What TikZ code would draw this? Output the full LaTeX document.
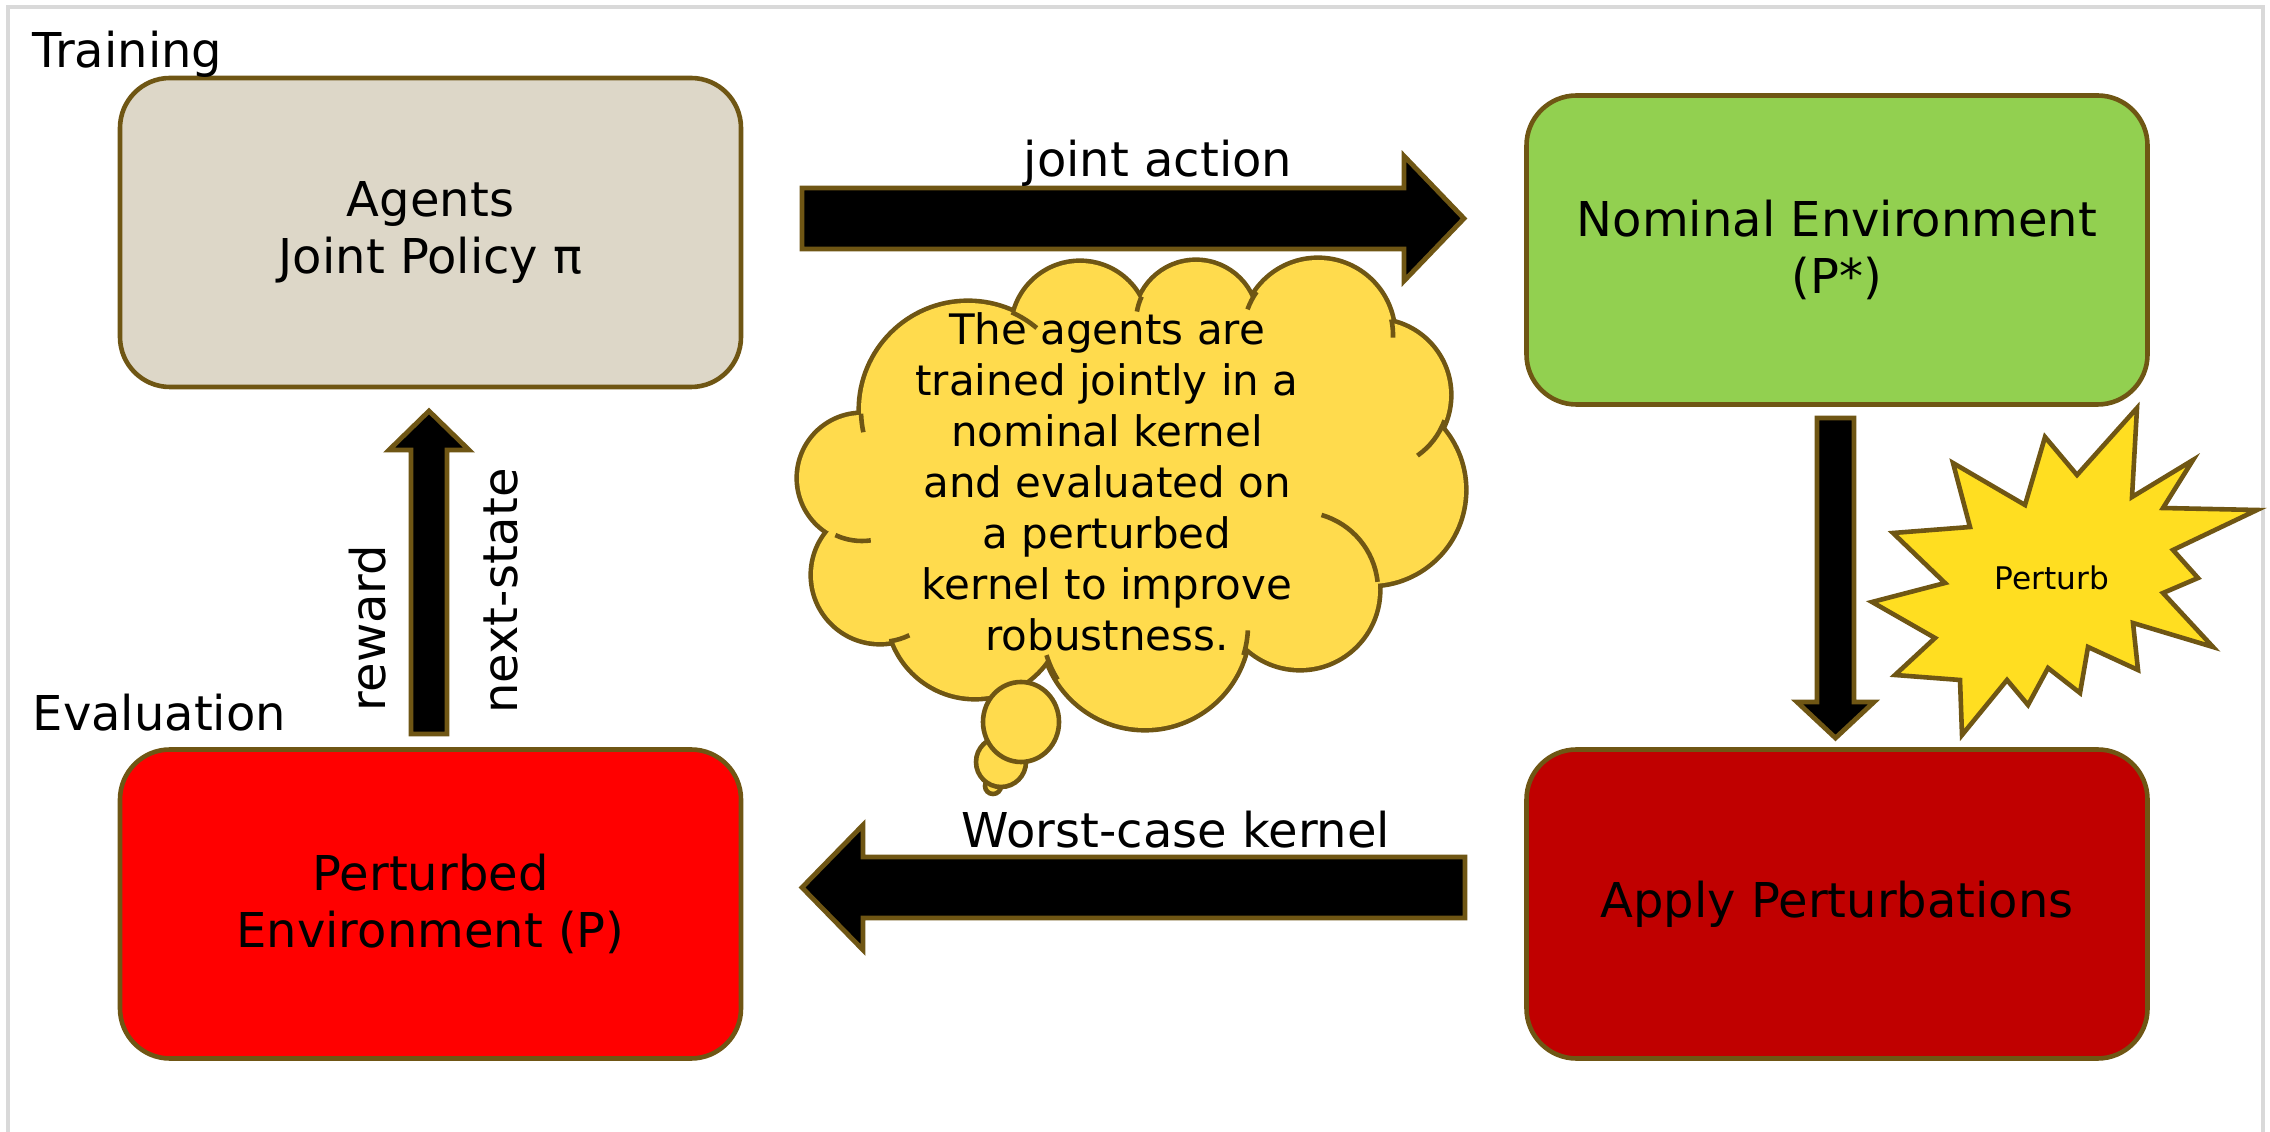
\documentclass[tikz,border=0pt]{standalone}
\usepackage{fontspec}
\setmainfont{DejaVu Sans}
\usetikzlibrary{positioning}

\definecolor{edge}{HTML}{6F5614}
\definecolor{agentfill}{HTML}{DDD7C8}
\definecolor{nomfill}{HTML}{92D050}
\definecolor{pertfill}{HTML}{FF0000}
\definecolor{applyfill}{HTML}{C00000}
\definecolor{cloudfill}{HTML}{FFDB4D}
\definecolor{burstfill}{HTML}{FFDE21}
\definecolor{framegray}{HTML}{D9D9D9}

% puffs of the thought cloud: x/y/radius
\newcommand{\puffs}{862/478/63, 880/575/67, 975/610/87, 1145/625/103, 1300/590/78,
	1370/490/94, 1375/395/74, 1318/335/75, 1196/322/60, 1080/330/67, 968/410/107}

\begin{document}
\begin{tikzpicture}[x=0.25pt, y=-0.25pt,
		box/.style={draw=edge, line width=1.15pt, rounded corners=12.5pt, minimum width=155.25pt, minimum height=77.25pt, align=center, font=\fontsize{12}{14.2}\selectfont},
		blockarrow/.style={draw=edge, fill=black, line width=1.2pt, line join=miter},
		lbl/.style={inner sep=0pt, font=\fontsize{12}{14}\selectfont},
		puff/.style={draw=edge, fill=cloudfill, line width=1.15pt},
		seam/.style={draw=edge, line width=1.15pt},
	]
	\useasboundingbox (0,0) rectangle (2270,1132);
	\draw[framegray, line width=1pt] (8,1140) -- (8,7) -- (2263,7) -- (2263,1140);

	\node (agents) [box, fill=agentfill] at (430.5,232.5) {Agents\\Joint Policy π};
	\node (nominal) [box, fill=nomfill] at (1837,250) {Nominal Environment\\(P*)};
	\node (perturbed) [box, fill=pertfill] at (430.5,904) {Perturbed\\Environment (P)};
	\node (apply) [box, fill=applyfill] at (1837,904) {Apply Perturbations};

	\node (training) [lbl, anchor=base west] at (32,68) {Training};
	\node (evaluation) [lbl, anchor=base west] at (32,731) {Evaluation};

	% block arrows between the boxes
	\draw[blockarrow] (802,188) -- (1404,188) -- (1404,156) -- (1464,218.5)
		-- (1404,281) -- (1404,249) -- (802,249) -- cycle;
	\draw[blockarrow] (1465,857) -- (863,857) -- (863,825) -- (802,887.5)
		-- (863,950) -- (863,918) -- (1465,918) -- cycle;
	\draw[blockarrow] (411,734) -- (411,450) -- (389,450) -- (429,411)
		-- (469,450) -- (447,450) -- (447,734) -- cycle;
	\draw[blockarrow] (1817,418) -- (1817,702) -- (1797,702) -- (1835.5,738)
		-- (1874,702) -- (1854,702) -- (1854,418) -- cycle;

	\node [lbl, anchor=base] at (1158,177) {joint action};
	\node [lbl, anchor=base] at (1176,847) {Worst-case kernel};
	\node [lbl, anchor=base, rotate=90] at (385,628) {reward};
	\node [lbl, anchor=base, rotate=90] at (517,591) {next-state};

	% thought cloud
	\foreach \cx/\cy/\r in \puffs
		\draw[puff, line width=2.3pt] (\cx,\cy) circle[radius=\r];
	\foreach \cx/\cy/\r in \puffs
		\fill[cloudfill] (\cx,\cy) circle[radius=\r];
	\fill[cloudfill] (1132,476) ellipse[x radius=260, y radius=160];
	\draw[seam] (1300,590) ++(-74:78) arc[start angle=-74, end angle=-6, radius=78];
	\draw[seam] (1375,395) ++(20:74) arc[start angle=20, end angle=55, radius=74];
	\draw[seam] (1318,335) ++(-12:75) arc[start angle=-12, end angle=2, radius=75];
	\draw[seam] (1318,335) ++(-160:75) arc[start angle=-160, end angle=-145, radius=75];
	\draw[seam] (1196,322) ++(-170:60) arc[start angle=-170, end angle=-155, radius=60];
	\draw[seam] (968,410) ++(-66:107) arc[start angle=-66, end angle=-50, radius=107];
	\draw[seam] (968,410) ++(168:107) arc[start angle=168, end angle=178, radius=107];
	\draw[seam] (862,478) ++(82:63) arc[start angle=82, end angle=115, radius=63];
	\draw[seam] (880,575) ++(64:67) arc[start angle=64, end angle=82, radius=67];
	\draw[seam] (1145,625) ++(148:103) arc[start angle=148, end angle=163, radius=103];
	\draw[seam] (1145,625) ++(3:103) arc[start angle=3, end angle=17, radius=103];
	\draw[puff] (993,786) circle [radius=8];
	\draw[puff] (1001,762) circle [radius=25];
	\draw[puff] (1021,722) circle [x radius=38, y radius=40];
	\node (note) [align=center, font=\fontsize{10.5}{12.75}\selectfont] at (1107,482) {The agents are\\trained jointly in a\\nominal kernel\\and evaluated on\\a perturbed\\kernel to improve\\robustness.};

	% burst
	\draw[draw=edge, fill=burstfill, line width=1.15pt, line join=miter]
		(2137,408) -- (2132,497) -- (2193,460) -- (2163,508) -- (2257,510) -- (2173,550)
		-- (2198,578) -- (2163,593) -- (2213,647) -- (2133,623) -- (2138,670) -- (2088,647)
		-- (2080,693) -- (2048,668) -- (2028,705) -- (2007,680) -- (1962,735) -- (1960,680)
		-- (1895,675) -- (1935,638) -- (1872,602) -- (1945,583) -- (1893,533) -- (1970,527)
		-- (1953,463) -- (2025,505) -- (2045,437) -- (2077,475) -- cycle;
	\node (perturb) [font=\fontsize{7.8}{9}\selectfont] at (2052,578) {Perturb};
\end{tikzpicture}
\end{document}
